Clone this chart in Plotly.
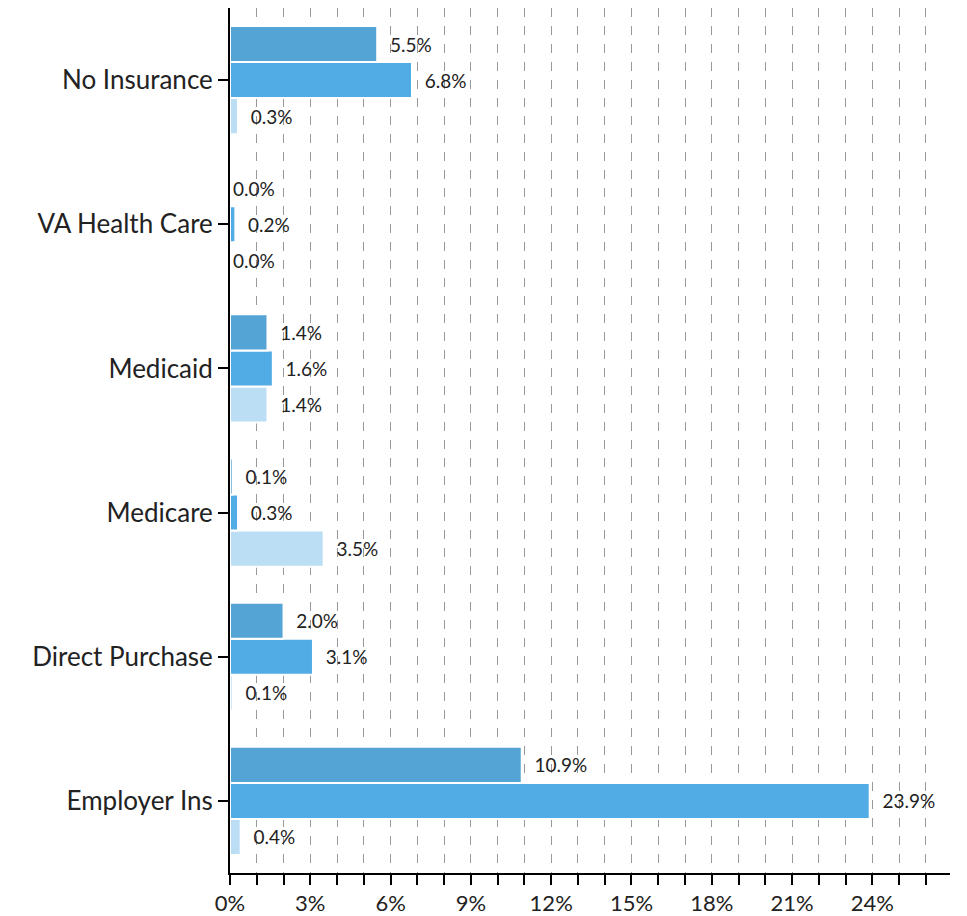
import plotly.graph_objects as go

categories = ["Employer Ins", "Direct Purchase", "Medicare", "Medicaid", "VA Health Care", "No Insurance"]
series_dark = [10.9, 2.0, 0.1, 1.4, 0.0, 5.5]
series_mid = [23.9, 3.1, 0.3, 1.6, 0.2, 6.8]
series_light = [0.4, 0.1, 3.5, 1.4, 0.0, 0.3]
x_tick_vals = [0, 3, 6, 9, 12, 15, 18, 21, 24]
x_tick_text = ["0%", "3%", "6%", "9%", "12%", "15%", "18%", "21%", "24%"]

colors = {"light": "#BBDEF5", "mid": "#51ABE4", "dark": "#55A4D6"}

def labels(vals):
    return [(f"{v:.1f}%" if v == 0 else f"  {v:.1f}%") for v in vals]

fig = go.Figure()
for name, vals, col in [("light", series_light, colors["light"]),
                        ("mid", series_mid, colors["mid"]),
                        ("dark", series_dark, colors["dark"])]:
    fig.add_trace(go.Bar(
        y=categories, x=vals, orientation="h", name=name,
        marker=dict(color=col, line=dict(color="white", width=2)),
        text=labels(vals), textposition="outside",
        textfont=dict(family="Lato", size=19, color="#222222"),
        cliponaxis=False,
    ))

fig.update_layout(
    barmode="group", bargap=0.25, bargroupgap=0,
    width=959, height=908, showlegend=False,
    plot_bgcolor="white", paper_bgcolor="white",
    margin=dict(l=222, r=17, t=0, b=43, autoexpand=False),
    font=dict(family="Lato", color="#222222"),
)
fig.update_xaxes(
    range=[0, 26.9], tickvals=x_tick_vals, ticktext=x_tick_text,
    ticks="outside", ticklen=10, tickwidth=2, tickcolor="black",
    showline=True, linecolor="black", linewidth=2,
    showgrid=True, gridcolor="#999999", griddash="dash", gridwidth=1,
    tickfont=dict(family="Lato", size=22, color="#222222"),
    minor=dict(dtick=1, tick0=0, ticks="outside", ticklen=10, tickwidth=2, tickcolor="black",
               showgrid=True, gridcolor="#999999", griddash="dash", gridwidth=1),
    zeroline=False, automargin=False,
)
fig.update_yaxes(
    ticks="outside", ticklen=10, tickwidth=2, tickcolor="black",
    showline=True, linecolor="black", linewidth=2, showgrid=False,
    tickfont=dict(family="Lato", size=26, color="#222222"),
    automargin=False,
)
fig.write_html("out.html")
